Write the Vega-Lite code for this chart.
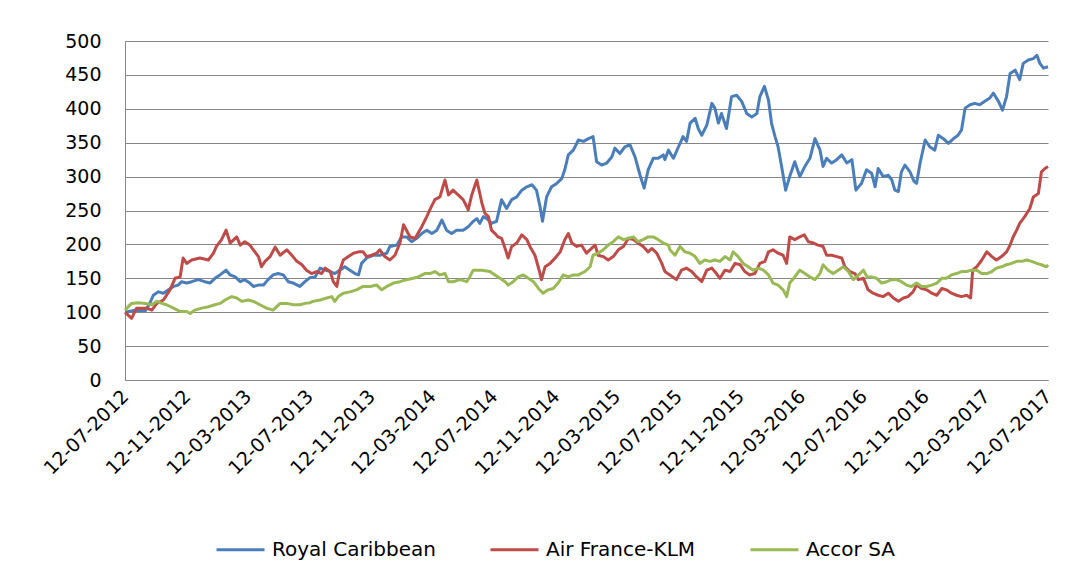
{
  "$schema": "https://vega.github.io/schema/vega-lite/v6.json",
  "width": 923,
  "height": 339,
  "autosize": "none",
  "padding": {"left": 125, "top": 41, "right": 40, "bottom": 202},
  "background": "white",
  "datasets": {
    "rc": [
      {"date":"2012-07-12","value":100},{"date":"2012-08-01","value":103},{"date":"2012-08-21","value":102},{"date":"2012-08-30","value":113},
      {"date":"2012-09-06","value":125},{"date":"2012-09-16","value":130},{"date":"2012-09-26","value":128},{"date":"2012-10-06","value":133},
      {"date":"2012-10-16","value":138},{"date":"2012-10-25","value":140},{"date":"2012-11-01","value":145},{"date":"2012-11-11","value":143},
      {"date":"2012-11-21","value":145},{"date":"2012-12-04","value":148},{"date":"2012-12-17","value":145},{"date":"2012-12-27","value":143},
      {"date":"2013-01-06","value":150},{"date":"2013-01-16","value":155},{"date":"2013-01-28","value":162},{"date":"2013-02-05","value":155},
      {"date":"2013-02-15","value":152},{"date":"2013-02-25","value":145},{"date":"2013-03-06","value":148},{"date":"2013-03-16","value":143},
      {"date":"2013-03-23","value":138},{"date":"2013-04-02","value":140},{"date":"2013-04-12","value":140},{"date":"2013-04-21","value":148},
      {"date":"2013-05-01","value":155},{"date":"2013-05-11","value":157},{"date":"2013-05-21","value":155},{"date":"2013-05-31","value":145},
      {"date":"2013-06-10","value":143},{"date":"2013-06-23","value":138},{"date":"2013-07-03","value":145},{"date":"2013-07-13","value":151},
      {"date":"2013-07-23","value":152},{"date":"2013-08-02","value":165},{"date":"2013-08-12","value":162},{"date":"2013-08-22","value":160},
      {"date":"2013-08-31","value":157},{"date":"2013-09-10","value":162},{"date":"2013-09-20","value":167},{"date":"2013-09-30","value":162},
      {"date":"2013-10-10","value":157},{"date":"2013-10-17","value":155},{"date":"2013-10-23","value":172},{"date":"2013-11-02","value":180},
      {"date":"2013-11-15","value":184},{"date":"2013-11-28","value":184},{"date":"2013-12-12","value":187},{"date":"2013-12-18","value":197},
      {"date":"2014-01-01","value":199},{"date":"2014-01-10","value":211},{"date":"2014-01-20","value":211},{"date":"2014-01-30","value":204},
      {"date":"2014-02-09","value":209},{"date":"2014-02-19","value":216},{"date":"2014-03-01","value":221},{"date":"2014-03-11","value":216},
      {"date":"2014-03-21","value":221},{"date":"2014-03-31","value":236},{"date":"2014-04-09","value":221},{"date":"2014-04-19","value":216},
      {"date":"2014-04-29","value":221},{"date":"2014-05-12","value":221},{"date":"2014-05-22","value":226},{"date":"2014-06-01","value":234},
      {"date":"2014-06-08","value":238},{"date":"2014-06-14","value":231},{"date":"2014-06-21","value":241},{"date":"2014-06-28","value":238},
      {"date":"2014-07-07","value":231},{"date":"2014-07-17","value":234},{"date":"2014-07-27","value":266},{"date":"2014-08-06","value":253},
      {"date":"2014-08-16","value":266},{"date":"2014-08-26","value":270},{"date":"2014-09-05","value":280},{"date":"2014-09-15","value":285},
      {"date":"2014-09-25","value":288},{"date":"2014-10-04","value":280},{"date":"2014-10-11","value":256},{"date":"2014-10-16","value":234},
      {"date":"2014-10-24","value":270},{"date":"2014-11-03","value":285},{"date":"2014-11-13","value":290},{"date":"2014-11-23","value":297},
      {"date":"2014-11-29","value":310},{"date":"2014-12-06","value":332},{"date":"2014-12-16","value":339},{"date":"2014-12-26","value":354},
      {"date":"2015-01-05","value":352},{"date":"2015-01-15","value":356},{"date":"2015-01-24","value":359},{"date":"2015-01-31","value":322},
      {"date":"2015-02-10","value":317},{"date":"2015-02-20","value":320},{"date":"2015-03-02","value":329},{"date":"2015-03-08","value":342},
      {"date":"2015-03-18","value":334},{"date":"2015-03-28","value":344},{"date":"2015-04-07","value":347},{"date":"2015-04-17","value":329},
      {"date":"2015-04-27","value":302},{"date":"2015-05-05","value":283},{"date":"2015-05-13","value":310},{"date":"2015-05-23","value":327},
      {"date":"2015-06-02","value":327},{"date":"2015-06-12","value":332},{"date":"2015-06-15","value":325},{"date":"2015-06-22","value":339},
      {"date":"2015-07-02","value":327},{"date":"2015-07-12","value":344},{"date":"2015-07-21","value":359},{"date":"2015-07-28","value":352},
      {"date":"2015-08-04","value":379},{"date":"2015-08-14","value":386},{"date":"2015-08-20","value":371},{"date":"2015-08-27","value":361},
      {"date":"2015-09-06","value":376},{"date":"2015-09-16","value":408},{"date":"2015-09-22","value":401},{"date":"2015-09-29","value":379},
      {"date":"2015-10-05","value":393},{"date":"2015-10-15","value":371},{"date":"2015-10-25","value":418},{"date":"2015-11-04","value":420},
      {"date":"2015-11-14","value":411},{"date":"2015-11-24","value":393},{"date":"2015-12-04","value":388},{"date":"2015-12-14","value":393},
      {"date":"2015-12-20","value":418},{"date":"2015-12-29","value":433},{"date":"2016-01-06","value":413},{"date":"2016-01-12","value":379},
      {"date":"2016-01-19","value":359},{"date":"2016-01-25","value":344},{"date":"2016-02-01","value":315},{"date":"2016-02-09","value":280},
      {"date":"2016-02-17","value":300},{"date":"2016-02-27","value":322},{"date":"2016-03-08","value":300},{"date":"2016-03-18","value":315},
      {"date":"2016-03-28","value":327},{"date":"2016-04-07","value":356},{"date":"2016-04-17","value":339},{"date":"2016-04-23","value":315},
      {"date":"2016-04-30","value":327},{"date":"2016-05-10","value":320},{"date":"2016-05-20","value":325},{"date":"2016-05-30","value":332},
      {"date":"2016-06-09","value":320},{"date":"2016-06-19","value":325},{"date":"2016-06-27","value":280},{"date":"2016-07-08","value":290},
      {"date":"2016-07-18","value":310},{"date":"2016-07-28","value":305},{"date":"2016-08-04","value":285},{"date":"2016-08-10","value":312},
      {"date":"2016-08-20","value":300},{"date":"2016-08-30","value":302},{"date":"2016-09-06","value":295},{"date":"2016-09-12","value":280},
      {"date":"2016-09-19","value":278},{"date":"2016-09-25","value":307},{"date":"2016-10-02","value":317},{"date":"2016-10-12","value":307},
      {"date":"2016-10-20","value":293},{"date":"2016-10-25","value":290},{"date":"2016-11-01","value":320},{"date":"2016-11-11","value":354},
      {"date":"2016-11-20","value":344},{"date":"2016-11-30","value":339},{"date":"2016-12-07","value":361},{"date":"2016-12-17","value":356},
      {"date":"2016-12-27","value":349},{"date":"2017-01-06","value":356},{"date":"2017-01-15","value":361},{"date":"2017-01-22","value":369},
      {"date":"2017-01-29","value":401},{"date":"2017-02-08","value":406},{"date":"2017-02-17","value":408},{"date":"2017-02-27","value":406},
      {"date":"2017-03-09","value":411},{"date":"2017-03-19","value":416},{"date":"2017-03-26","value":423},{"date":"2017-04-05","value":411},
      {"date":"2017-04-13","value":398},{"date":"2017-04-21","value":418},{"date":"2017-04-28","value":452},{"date":"2017-05-08","value":457},
      {"date":"2017-05-17","value":443},{"date":"2017-05-24","value":467},{"date":"2017-06-03","value":472},{"date":"2017-06-13","value":474},
      {"date":"2017-06-20","value":479},{"date":"2017-06-26","value":467},{"date":"2017-07-03","value":460},{"date":"2017-07-12","value":462}
    ],
    "af": [
      {"date":"2012-07-12","value":100},{"date":"2012-07-25","value":91},{"date":"2012-08-04","value":106},{"date":"2012-08-24","value":106},
      {"date":"2012-09-03","value":103},{"date":"2012-09-13","value":113},{"date":"2012-09-26","value":118},{"date":"2012-10-09","value":133},
      {"date":"2012-10-19","value":150},{"date":"2012-10-29","value":152},{"date":"2012-11-04","value":180},{"date":"2012-11-11","value":172},
      {"date":"2012-11-21","value":177},{"date":"2012-12-07","value":180},{"date":"2012-12-24","value":177},{"date":"2013-01-03","value":187},
      {"date":"2013-01-09","value":197},{"date":"2013-01-19","value":207},{"date":"2013-01-28","value":221},{"date":"2013-02-05","value":202},
      {"date":"2013-02-18","value":211},{"date":"2013-02-25","value":199},{"date":"2013-03-06","value":204},{"date":"2013-03-16","value":199},
      {"date":"2013-03-23","value":192},{"date":"2013-04-02","value":182},{"date":"2013-04-08","value":167},{"date":"2013-04-15","value":175},
      {"date":"2013-04-25","value":182},{"date":"2013-05-05","value":196},{"date":"2013-05-15","value":184},{"date":"2013-05-28","value":192},
      {"date":"2013-06-07","value":184},{"date":"2013-06-17","value":175},{"date":"2013-06-27","value":170},{"date":"2013-07-06","value":162},
      {"date":"2013-07-16","value":157},{"date":"2013-07-26","value":160},{"date":"2013-08-05","value":157},{"date":"2013-08-12","value":165},
      {"date":"2013-08-22","value":160},{"date":"2013-08-28","value":145},{"date":"2013-09-04","value":138},{"date":"2013-09-10","value":162},
      {"date":"2013-09-17","value":177},{"date":"2013-09-27","value":182},{"date":"2013-10-07","value":187},{"date":"2013-10-17","value":189},
      {"date":"2013-10-26","value":189},{"date":"2013-11-02","value":182},{"date":"2013-11-12","value":184},{"date":"2013-11-22","value":187},
      {"date":"2013-11-28","value":192},{"date":"2013-12-08","value":182},{"date":"2013-12-18","value":177},{"date":"2013-12-28","value":184},
      {"date":"2014-01-07","value":202},{"date":"2014-01-14","value":229},{"date":"2014-01-27","value":211},{"date":"2014-02-06","value":209},
      {"date":"2014-02-19","value":226},{"date":"2014-03-01","value":241},{"date":"2014-03-07","value":251},{"date":"2014-03-17","value":266},
      {"date":"2014-03-27","value":270},{"date":"2014-04-06","value":295},{"date":"2014-04-13","value":273},{"date":"2014-04-22","value":280},
      {"date":"2014-05-02","value":273},{"date":"2014-05-12","value":266},{"date":"2014-05-19","value":256},{"date":"2014-05-22","value":251},
      {"date":"2014-05-29","value":273},{"date":"2014-06-08","value":295},{"date":"2014-06-18","value":261},{"date":"2014-06-24","value":246},
      {"date":"2014-07-01","value":241},{"date":"2014-07-07","value":221},{"date":"2014-07-14","value":216},{"date":"2014-07-20","value":211},
      {"date":"2014-07-27","value":209},{"date":"2014-08-03","value":194},{"date":"2014-08-09","value":180},{"date":"2014-08-16","value":197},
      {"date":"2014-08-26","value":202},{"date":"2014-09-05","value":214},{"date":"2014-09-15","value":207},{"date":"2014-09-21","value":197},
      {"date":"2014-10-01","value":184},{"date":"2014-10-10","value":160},{"date":"2014-10-14","value":148},{"date":"2014-10-21","value":167},
      {"date":"2014-10-31","value":172},{"date":"2014-11-10","value":180},{"date":"2014-11-20","value":189},{"date":"2014-11-29","value":207},
      {"date":"2014-12-06","value":216},{"date":"2014-12-13","value":202},{"date":"2014-12-23","value":197},{"date":"2015-01-01","value":199},
      {"date":"2015-01-11","value":187},{"date":"2015-01-21","value":194},{"date":"2015-01-28","value":199},{"date":"2015-02-03","value":184},
      {"date":"2015-02-13","value":182},{"date":"2015-02-23","value":177},{"date":"2015-03-05","value":182},{"date":"2015-03-15","value":192},
      {"date":"2015-03-25","value":197},{"date":"2015-04-04","value":209},{"date":"2015-04-14","value":207},{"date":"2015-04-23","value":202},
      {"date":"2015-05-03","value":197},{"date":"2015-05-13","value":189},{"date":"2015-05-20","value":194},{"date":"2015-05-30","value":187},
      {"date":"2015-06-09","value":172},{"date":"2015-06-15","value":160},{"date":"2015-06-25","value":155},{"date":"2015-07-08","value":148},
      {"date":"2015-07-18","value":162},{"date":"2015-07-28","value":165},{"date":"2015-08-07","value":160},{"date":"2015-08-17","value":152},
      {"date":"2015-08-27","value":145},{"date":"2015-09-06","value":162},{"date":"2015-09-16","value":165},{"date":"2015-09-25","value":157},
      {"date":"2015-10-02","value":150},{"date":"2015-10-12","value":162},{"date":"2015-10-22","value":160},{"date":"2015-11-01","value":172},
      {"date":"2015-11-11","value":170},{"date":"2015-11-20","value":160},{"date":"2015-11-30","value":155},{"date":"2015-12-10","value":157},
      {"date":"2015-12-20","value":172},{"date":"2015-12-30","value":175},{"date":"2016-01-06","value":189},{"date":"2016-01-15","value":192},
      {"date":"2016-01-25","value":187},{"date":"2016-02-04","value":184},{"date":"2016-02-11","value":172},{"date":"2016-02-17","value":211},
      {"date":"2016-02-27","value":207},{"date":"2016-03-08","value":211},{"date":"2016-03-17","value":214},{"date":"2016-03-25","value":204},
      {"date":"2016-04-04","value":202},{"date":"2016-04-13","value":199},{"date":"2016-04-23","value":197},{"date":"2016-04-30","value":184},
      {"date":"2016-05-10","value":184},{"date":"2016-05-20","value":182},{"date":"2016-05-30","value":180},{"date":"2016-06-05","value":167},
      {"date":"2016-06-15","value":160},{"date":"2016-06-25","value":157},{"date":"2016-07-02","value":148},{"date":"2016-07-12","value":150},
      {"date":"2016-07-21","value":133},{"date":"2016-07-31","value":128},{"date":"2016-08-10","value":125},{"date":"2016-08-20","value":123},
      {"date":"2016-08-30","value":128},{"date":"2016-09-09","value":121},{"date":"2016-09-19","value":116},{"date":"2016-09-29","value":121},
      {"date":"2016-10-08","value":123},{"date":"2016-10-18","value":130},{"date":"2016-10-25","value":140},{"date":"2016-11-04","value":135},
      {"date":"2016-11-14","value":133},{"date":"2016-11-24","value":128},{"date":"2016-12-04","value":125},{"date":"2016-12-14","value":135},
      {"date":"2016-12-23","value":133},{"date":"2017-01-02","value":128},{"date":"2017-01-12","value":125},{"date":"2017-01-22","value":123},
      {"date":"2017-02-01","value":125},{"date":"2017-02-09","value":121},{"date":"2017-02-13","value":162},{"date":"2017-02-21","value":167},
      {"date":"2017-03-03","value":177},{"date":"2017-03-13","value":189},{"date":"2017-03-23","value":182},{"date":"2017-04-01","value":177},
      {"date":"2017-04-11","value":182},{"date":"2017-04-21","value":189},{"date":"2017-04-28","value":199},{"date":"2017-05-04","value":211},
      {"date":"2017-05-11","value":221},{"date":"2017-05-17","value":231},{"date":"2017-05-27","value":241},{"date":"2017-06-06","value":253},
      {"date":"2017-06-13","value":270},{"date":"2017-06-23","value":275},{"date":"2017-06-29","value":307},{"date":"2017-07-06","value":312},
      {"date":"2017-07-12","value":315}
    ],
    "ac": [
      {"date":"2012-07-12","value":103},{"date":"2012-07-25","value":113},{"date":"2012-08-07","value":114},{"date":"2012-08-21","value":113},
      {"date":"2012-09-03","value":111},{"date":"2012-09-13","value":116},{"date":"2012-09-23","value":113},{"date":"2012-10-02","value":111},
      {"date":"2012-10-16","value":106},{"date":"2012-10-29","value":101},{"date":"2012-11-11","value":101},{"date":"2012-11-18","value":98},
      {"date":"2012-11-27","value":103},{"date":"2012-12-11","value":106},{"date":"2012-12-24","value":108},{"date":"2013-01-06","value":111},
      {"date":"2013-01-16","value":113},{"date":"2013-01-26","value":118},{"date":"2013-02-08","value":123},{"date":"2013-02-18","value":121},
      {"date":"2013-02-28","value":116},{"date":"2013-03-13","value":118},{"date":"2013-03-23","value":116},{"date":"2013-04-05","value":111},
      {"date":"2013-04-18","value":106},{"date":"2013-05-01","value":103},{"date":"2013-05-15","value":113},{"date":"2013-05-28","value":113},
      {"date":"2013-06-10","value":111},{"date":"2013-06-23","value":111},{"date":"2013-07-03","value":113},{"date":"2013-07-13","value":114},
      {"date":"2013-07-19","value":116},{"date":"2013-08-02","value":118},{"date":"2013-08-15","value":121},{"date":"2013-08-25","value":123},
      {"date":"2013-08-31","value":116},{"date":"2013-09-07","value":123},{"date":"2013-09-17","value":128},{"date":"2013-09-30","value":130},
      {"date":"2013-10-13","value":133},{"date":"2013-10-26","value":138},{"date":"2013-11-09","value":138},{"date":"2013-11-22","value":140},
      {"date":"2013-12-02","value":133},{"date":"2013-12-12","value":138},{"date":"2013-12-25","value":143},{"date":"2014-01-07","value":145},
      {"date":"2014-01-20","value":148},{"date":"2014-02-02","value":150},{"date":"2014-02-12","value":152},{"date":"2014-02-25","value":157},
      {"date":"2014-03-07","value":157},{"date":"2014-03-17","value":160},{"date":"2014-03-27","value":155},{"date":"2014-04-06","value":157},
      {"date":"2014-04-13","value":145},{"date":"2014-04-22","value":145},{"date":"2014-05-06","value":148},{"date":"2014-05-19","value":145},
      {"date":"2014-05-25","value":152},{"date":"2014-06-01","value":162},{"date":"2014-06-18","value":162},{"date":"2014-07-04","value":160},
      {"date":"2014-07-14","value":155},{"date":"2014-07-24","value":150},{"date":"2014-08-03","value":145},{"date":"2014-08-09","value":140},
      {"date":"2014-08-19","value":145},{"date":"2014-08-29","value":152},{"date":"2014-09-08","value":155},{"date":"2014-09-18","value":150},
      {"date":"2014-09-28","value":145},{"date":"2014-10-08","value":135},{"date":"2014-10-17","value":128},{"date":"2014-10-27","value":133},
      {"date":"2014-11-06","value":135},{"date":"2014-11-16","value":143},{"date":"2014-11-26","value":155},{"date":"2014-12-06","value":152},
      {"date":"2014-12-16","value":155},{"date":"2014-12-26","value":155},{"date":"2015-01-08","value":160},{"date":"2015-01-18","value":167},
      {"date":"2015-01-24","value":184},{"date":"2015-02-03","value":187},{"date":"2015-02-13","value":192},{"date":"2015-02-23","value":199},
      {"date":"2015-03-05","value":204},{"date":"2015-03-15","value":211},{"date":"2015-03-25","value":207},{"date":"2015-04-04","value":209},
      {"date":"2015-04-14","value":211},{"date":"2015-04-23","value":204},{"date":"2015-05-03","value":207},{"date":"2015-05-13","value":211},
      {"date":"2015-05-23","value":211},{"date":"2015-06-02","value":207},{"date":"2015-06-12","value":202},{"date":"2015-06-22","value":199},
      {"date":"2015-06-25","value":192},{"date":"2015-07-05","value":184},{"date":"2015-07-15","value":197},{"date":"2015-07-25","value":189},
      {"date":"2015-08-04","value":187},{"date":"2015-08-14","value":182},{"date":"2015-08-23","value":172},{"date":"2015-09-02","value":177},
      {"date":"2015-09-12","value":175},{"date":"2015-09-22","value":177},{"date":"2015-10-02","value":175},{"date":"2015-10-12","value":182},
      {"date":"2015-10-22","value":177},{"date":"2015-10-28","value":189},{"date":"2015-11-07","value":182},{"date":"2015-11-17","value":172},
      {"date":"2015-11-27","value":167},{"date":"2015-12-07","value":162},{"date":"2015-12-17","value":165},{"date":"2015-12-27","value":162},
      {"date":"2016-01-06","value":155},{"date":"2016-01-15","value":143},{"date":"2016-01-25","value":140},{"date":"2016-02-04","value":133},
      {"date":"2016-02-11","value":123},{"date":"2016-02-17","value":143},{"date":"2016-02-27","value":152},{"date":"2016-03-08","value":162},
      {"date":"2016-03-18","value":157},{"date":"2016-03-28","value":152},{"date":"2016-04-07","value":148},{"date":"2016-04-17","value":157},
      {"date":"2016-04-23","value":170},{"date":"2016-05-03","value":162},{"date":"2016-05-13","value":157},{"date":"2016-05-23","value":162},
      {"date":"2016-06-02","value":167},{"date":"2016-06-12","value":160},{"date":"2016-06-22","value":148},{"date":"2016-07-05","value":157},
      {"date":"2016-07-12","value":162},{"date":"2016-07-19","value":152},{"date":"2016-07-28","value":152},{"date":"2016-08-07","value":150},
      {"date":"2016-08-17","value":143},{"date":"2016-08-27","value":145},{"date":"2016-09-06","value":148},{"date":"2016-09-16","value":148},
      {"date":"2016-09-25","value":145},{"date":"2016-10-05","value":140},{"date":"2016-10-15","value":138},{"date":"2016-10-25","value":143},
      {"date":"2016-11-04","value":138},{"date":"2016-11-14","value":138},{"date":"2016-11-24","value":140},{"date":"2016-12-04","value":143},
      {"date":"2016-12-14","value":150},{"date":"2016-12-23","value":150},{"date":"2017-01-02","value":155},{"date":"2017-01-12","value":157},
      {"date":"2017-01-22","value":160},{"date":"2017-02-01","value":160},{"date":"2017-02-11","value":162},{"date":"2017-02-21","value":162},
      {"date":"2017-03-03","value":157},{"date":"2017-03-13","value":157},{"date":"2017-03-23","value":160},{"date":"2017-04-01","value":165},
      {"date":"2017-04-11","value":167},{"date":"2017-04-21","value":170},{"date":"2017-05-01","value":172},{"date":"2017-05-11","value":175},
      {"date":"2017-05-21","value":175},{"date":"2017-05-31","value":177},{"date":"2017-06-10","value":175},{"date":"2017-06-20","value":172},
      {"date":"2017-06-29","value":170},{"date":"2017-07-09","value":167},{"date":"2017-07-12","value":170}
    ]
  },
  "encoding": {
    "x": {
      "field": "date",
      "type": "temporal",
      "scale": {
        "type": "utc",
        "domain": [
          {"year": 2012, "month": 7, "date": 12, "utc": true},
          {"year": 2017, "month": 7, "date": 12, "utc": true}
        ]
      },
      "axis": {
        "title": null,
        "grid": false,
        "ticks": false,
        "format": "%d-%m-%Y",
        "labelAngle": -45,
        "labelAlign": "right",
        "labelBaseline": "middle",
        "labelPadding": 13,
        "labelOverlap": false,
        "labelFlush": false,
        "values": [
          {"year": 2012, "month": 7, "date": 12, "utc": true},
          {"year": 2012, "month": 11, "date": 12, "utc": true},
          {"year": 2013, "month": 3, "date": 12, "utc": true},
          {"year": 2013, "month": 7, "date": 12, "utc": true},
          {"year": 2013, "month": 11, "date": 12, "utc": true},
          {"year": 2014, "month": 3, "date": 12, "utc": true},
          {"year": 2014, "month": 7, "date": 12, "utc": true},
          {"year": 2014, "month": 11, "date": 12, "utc": true},
          {"year": 2015, "month": 3, "date": 12, "utc": true},
          {"year": 2015, "month": 7, "date": 12, "utc": true},
          {"year": 2015, "month": 11, "date": 12, "utc": true},
          {"year": 2016, "month": 3, "date": 12, "utc": true},
          {"year": 2016, "month": 7, "date": 12, "utc": true},
          {"year": 2016, "month": 11, "date": 12, "utc": true},
          {"year": 2017, "month": 3, "date": 12, "utc": true},
          {"year": 2017, "month": 7, "date": 12, "utc": true}
        ]
      }
    },
    "y": {
      "field": "value",
      "type": "quantitative",
      "scale": {"domain": [0, 500], "nice": false, "zero": true},
      "axis": {
        "title": null,
        "grid": true,
        "ticks": false,
        "labelPadding": 24,
        "values": [0, 50, 100, 150, 200, 250, 300, 350, 400, 450, 500]
      }
    }
  },
  "layer": [
    {
      "data": {"name": "rc"},
      "mark": {"type": "line", "strokeWidth": 3, "strokeJoin": "round"},
      "encoding": {
        "color": {
          "datum": "Royal Caribbean",
          "type": "nominal",
          "scale": {"domain": ["Royal Caribbean", "Air France-KLM", "Accor SA"], "range": ["#4A7EBB", "#BE4B48", "#98B954"]},
          "legend": {"title": null, "orient": "none", "legendX": 90, "legendY": 483, "direction": "horizontal", "symbolType": "stroke", "symbolSize": 2304, "symbolStrokeWidth": 3, "labelFontSize": 20, "labelFont": "DejaVu Sans", "labelColor": "#000000", "labelOffset": 6, "columnPadding": 48, "labelLimit": 400}
        }
      }
    },
    {
      "data": {"name": "af"},
      "mark": {"type": "line", "strokeWidth": 3, "strokeJoin": "round"},
      "encoding": {
        "color": {
          "datum": "Air France-KLM",
          "type": "nominal",
          "scale": {"domain": ["Royal Caribbean", "Air France-KLM", "Accor SA"], "range": ["#4A7EBB", "#BE4B48", "#98B954"]},
          "legend": {"title": null, "orient": "none", "legendX": 90, "legendY": 483, "direction": "horizontal", "symbolType": "stroke", "symbolSize": 2304, "symbolStrokeWidth": 3, "labelFontSize": 20, "labelFont": "DejaVu Sans", "labelColor": "#000000", "labelOffset": 6, "columnPadding": 48, "labelLimit": 400}
        }
      }
    },
    {
      "data": {"name": "ac"},
      "mark": {"type": "line", "strokeWidth": 3, "strokeJoin": "round"},
      "encoding": {
        "color": {
          "datum": "Accor SA",
          "type": "nominal",
          "scale": {"domain": ["Royal Caribbean", "Air France-KLM", "Accor SA"], "range": ["#4A7EBB", "#BE4B48", "#98B954"]},
          "legend": {"title": null, "orient": "none", "legendX": 90, "legendY": 483, "direction": "horizontal", "symbolType": "stroke", "symbolSize": 2304, "symbolStrokeWidth": 3, "labelFontSize": 20, "labelFont": "DejaVu Sans", "labelColor": "#000000", "labelOffset": 6, "columnPadding": 48, "labelLimit": 400}
        }
      }
    }
  ],
  "config": {
    "view": {"stroke": null},
    "font": "DejaVu Sans",
    "axis": {
      "labelFont": "DejaVu Sans",
      "labelFontSize": 19,
      "labelColor": "#000000",
      "domainColor": "#868686",
      "domainWidth": 1,
      "gridColor": "#868686",
      "gridWidth": 1,
      "gridOpacity": 1
    }
  }
}
